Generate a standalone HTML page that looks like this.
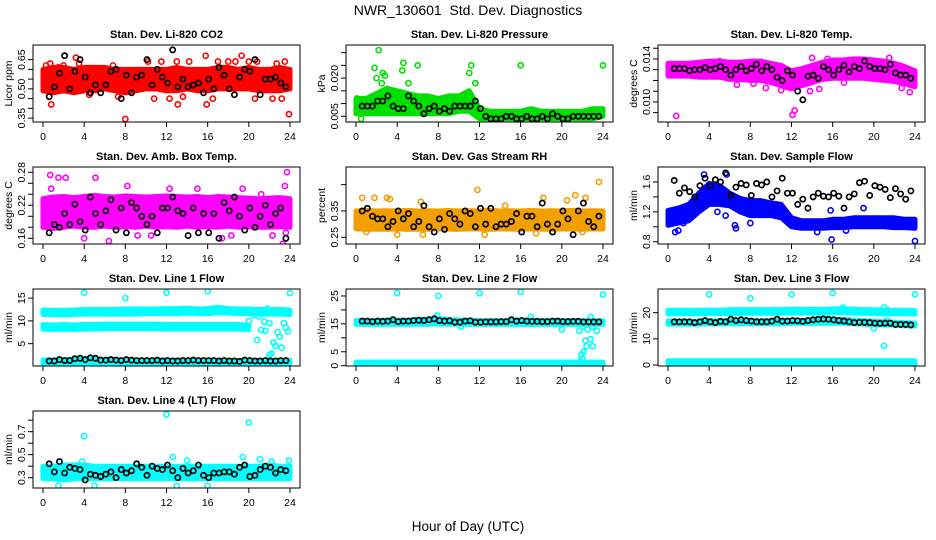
<!DOCTYPE html>
<html><head><meta charset="utf-8"><title>NWR_130601 Std. Dev. Diagnostics</title>
<style>
html,body{margin:0;padding:0;background:#fff;}
svg{display:block;font-family:"Liberation Sans",sans-serif;}
</style></head>
<body>
<svg id="chart" width="936" height="540" viewBox="0 0 936 540">
<text x="468" y="15" text-anchor="middle" font-size="14" style="white-space:pre">NWR_130601  Std. Dev. Diagnostics</text>
<text x="468" y="531" text-anchor="middle" font-size="13.5">Hour of Day (UTC)</text>
</svg>
<script>
// shared sampling hours for black (reference) points
const blackHours = [0.6,1.1,1.6,2.1,2.6,3.1,3.6,4.1,4.6,5.1,5.6,6.1,6.6,7.1,7.6,8.1,8.6,9.1,9.6,10.1,10.6,11.1,11.6,12.1,12.6,13.1,13.6,14.1,14.6,15.1,15.6,16.1,16.6,17.1,17.6,18.1,18.6,19.1,19.6,20.1,20.6,21.1,21.6,22.1,22.6,23.1,23.6];
const bandHours = [0,1,2,3,4,5,6,7,8,9,10,11,12,13,14,15,16,17,18,19,20,21,22,23,24];
const xTicks = [0,4,8,12,16,20,24];

// Panel 1: CO2
const co2BandLo = [0.49,0.48,0.49,0.48,0.49,0.49,0.50,0.49,0.48,0.49,0.50,0.50,0.49,0.49,0.50,0.49,0.49,0.50,0.50,0.50,0.50,0.49,0.49,0.49,0.50];
const co2BandHi = [0.60,0.61,0.61,0.60,0.61,0.61,0.61,0.60,0.60,0.60,0.60,0.60,0.60,0.61,0.60,0.60,0.60,0.61,0.61,0.60,0.61,0.60,0.60,0.61,0.60];
const co2OutT = [0.3,0.8,1.5,3.2,3.5,4.5,6.8,7.3,8.0,10.2,10.8,11.5,12.3,13.0,13.1,13.6,14.2,15.8,15.9,16.5,17.0,18.0,18.7,19.3,20.0,20.6,20.8,22.3,22.7,23.5,23.9,23.2,0.7,2.0];
const co2OutV = [0.62,0.42,0.61,0.66,0.63,0.47,0.62,0.46,0.345,0.64,0.45,0.64,0.45,0.64,0.42,0.46,0.64,0.67,0.42,0.45,0.64,0.64,0.64,0.67,0.64,0.45,0.64,0.45,0.63,0.64,0.37,0.45,0.63,0.62];
const co2Black = [0.46,0.51,0.58,0.67,0.50,0.59,0.65,0.56,0.48,0.52,0.48,0.52,0.59,0.60,0.45,0.57,0.48,0.56,0.57,0.65,0.52,0.60,0.56,0.53,0.70,0.51,0.55,0.51,0.52,0.53,0.48,0.55,0.50,0.61,0.57,0.50,0.47,0.56,0.60,0.59,0.65,0.47,0.55,0.55,0.56,0.53,0.51];

// Panel 2: Pressure
const presBandLo = [0.006,0.006,0.006,0.006,0.006,0.006,0.006,0.006,0.006,0.006,0.007,0.007,0.004,0.004,0.004,0.004,0.004,0.004,0.004,0.004,0.004,0.004,0.004,0.004,0.005];
const presBandHi = [0.012,0.012,0.014,0.016,0.015,0.014,0.013,0.013,0.012,0.013,0.013,0.015,0.008,0.007,0.007,0.007,0.007,0.008,0.007,0.007,0.007,0.007,0.007,0.008,0.008];
const presOutT = [2.2,1.8,2.0,2.6,2.8,4.6,4.5,5.1,6.0,11.2,11.0,11.6,16.0,24.0,0.1,0.5,2.5];
const presOutV = [0.031,0.024,0.020,0.022,0.021,0.026,0.023,0.018,0.025,0.025,0.022,0.018,0.025,0.025,0.012,0.004,0.018];
const presBlack = [0.009,0.009,0.009,0.011,0.011,0.013,0.009,0.008,0.008,0.013,0.011,0.009,0.006,0.008,0.009,0.007,0.008,0.007,0.009,0.009,0.009,0.009,0.011,0.008,0.005,0.004,0.004,0.004,0.005,0.005,0.004,0.004,0.005,0.004,0.004,0.005,0.004,0.006,0.005,0.004,0.004,0.005,0.005,0.005,0.005,0.005,0.005];

// Panel 3: Li-820 Temp
const tempBandLo = [0.0124,0.0124,0.0124,0.0123,0.0123,0.0123,0.0121,0.0121,0.0120,0.0120,0.0118,0.0115,0.0112,0.0115,0.0118,0.0121,0.0122,0.0122,0.0122,0.0122,0.0121,0.0120,0.0119,0.0117,0.0114];
const tempBandHi = [0.0136,0.0136,0.0136,0.0137,0.0138,0.0138,0.0137,0.0137,0.0138,0.0138,0.0136,0.0134,0.0129,0.0131,0.0134,0.0137,0.0139,0.0139,0.0140,0.0140,0.0139,0.0138,0.0136,0.0133,0.0129];
const tempOutT = [0.8,2.0,3.5,5.0,6.7,8.3,9.5,11.0,12.1,12.3,13.8,14.7,17.1,18.6,19.2,21.5,22.7,23.5,23.9,15.5,14.0];
const tempOutV = [0.0087,0.0126,0.0125,0.0138,0.0116,0.0117,0.0113,0.0111,0.0088,0.0092,0.0110,0.0112,0.0118,0.0157,0.0136,0.0141,0.0113,0.0109,0.0116,0.0140,0.0141];
const tempBlack = [0.0131,0.0131,0.0131,0.0129,0.0130,0.0130,0.0132,0.0130,0.0131,0.0133,0.0130,0.0125,0.0130,0.0133,0.0129,0.0131,0.0135,0.0129,0.0133,0.0130,0.0123,0.0120,0.0129,0.0125,0.0110,0.0102,0.0124,0.0125,0.0122,0.0133,0.0130,0.0125,0.0130,0.0134,0.0128,0.0133,0.0131,0.0138,0.0133,0.0131,0.0131,0.0130,0.0135,0.0127,0.0125,0.0125,0.0122];

// Panel 4: Amb box temp
const ambBandLo = [0.180,0.178,0.180,0.182,0.180,0.180,0.182,0.180,0.181,0.180,0.182,0.180,0.181,0.180,0.182,0.180,0.181,0.180,0.182,0.180,0.181,0.180,0.180,0.181,0.180];
const ambBandHi = [0.232,0.235,0.236,0.234,0.236,0.238,0.236,0.235,0.237,0.236,0.235,0.236,0.237,0.236,0.235,0.236,0.234,0.236,0.235,0.234,0.233,0.232,0.233,0.234,0.232];
const ambOutT = [0.7,1.5,2.2,5.1,0.8,4.0,6.4,9.2,8.2,12.3,15.0,17.4,18.3,19.4,21.2,22.3,23.3,23.7,23.5,23.6,10.5];
const ambOutV = [0.275,0.27,0.27,0.27,0.25,0.16,0.155,0.165,0.255,0.25,0.25,0.16,0.165,0.25,0.24,0.165,0.15,0.28,0.255,0.17,0.165];
const ambBlack = [0.17,0.185,0.18,0.205,0.185,0.222,0.19,0.175,0.235,0.205,0.185,0.21,0.23,0.175,0.215,0.17,0.225,0.215,0.20,0.185,0.2,0.17,0.215,0.215,0.235,0.21,0.205,0.165,0.215,0.17,0.205,0.17,0.205,0.16,0.225,0.21,0.235,0.2,0.175,0.215,0.18,0.2,0.22,0.185,0.205,0.215,0.16];

// Panel 5: Gas stream RH
const rhBandLo = [0.282,0.280,0.281,0.280,0.282,0.280,0.281,0.280,0.282,0.281,0.280,0.282,0.281,0.280,0.282,0.281,0.280,0.282,0.281,0.280,0.282,0.281,0.280,0.282,0.281];
const rhBandHi = [0.350,0.352,0.350,0.351,0.350,0.352,0.350,0.351,0.350,0.352,0.350,0.351,0.350,0.352,0.350,0.351,0.350,0.352,0.350,0.351,0.350,0.352,0.350,0.351,0.350];
const rhOutT = [0.6,1.8,3.3,3.0,11.8,14.5,18.2,20.5,21.3,22.3,23.6,6.5,4.0,12.5,17.5,22.0,1.0,6.3];
const rhOutV = [0.40,0.40,0.395,0.40,0.43,0.37,0.40,0.39,0.41,0.40,0.46,0.26,0.26,0.26,0.265,0.27,0.27,0.385];
const rhBlack = [0.35,0.36,0.33,0.32,0.32,0.29,0.31,0.35,0.32,0.34,0.29,0.31,0.37,0.29,0.27,0.32,0.28,0.34,0.32,0.30,0.35,0.34,0.29,0.36,0.30,0.36,0.29,0.30,0.30,0.31,0.34,0.27,0.33,0.33,0.29,0.38,0.30,0.27,0.30,0.35,0.32,0.26,0.35,0.38,0.31,0.29,0.33];

// Panel 6: Sample flow
const sfBandLo = [1.02,1.05,1.08,1.2,1.3,1.3,1.28,1.2,1.15,1.15,1.15,1.12,1.0,0.98,0.98,0.98,0.99,0.99,1.0,1.0,1.0,1.0,0.99,0.99,0.98];
const sfBandHi = [1.22,1.25,1.3,1.45,1.58,1.55,1.45,1.38,1.35,1.35,1.32,1.3,1.12,1.08,1.08,1.08,1.1,1.1,1.12,1.12,1.12,1.12,1.12,1.1,1.1];
const sfOutT = [0.7,1.0,1.5,4.8,5.6,6.5,6.6,8.0,15.9,14.5,15.8,19.0,24.0,17.3,3.5,5.7];
const sfOutV = [0.93,0.95,1.05,1.2,1.15,1.02,0.98,1.05,0.83,0.93,1.22,1.25,0.81,0.95,1.7,1.7];
const sfBlack = [1.62,1.45,1.52,1.47,1.40,1.55,1.65,1.55,1.63,1.60,1.72,1.42,1.53,1.58,1.56,1.42,1.58,1.56,1.60,1.40,1.48,1.65,1.45,1.45,1.30,1.37,1.25,1.40,1.45,1.41,1.40,1.45,1.41,1.25,1.40,1.44,1.59,1.61,1.42,1.55,1.53,1.50,1.39,1.51,1.44,1.37,1.48];

// Panel 7: Line 1 flow
const l1BandALo = [11.4,11.4,11.3,11.4,11.5,11.5,11.5,11.5,11.5,11.5,11.6,11.6,11.6,11.6,11.7,11.6,11.6,11.8,11.7,11.6,11.6,11.5,11.5,11.5,11.4];
const l1BandAHi = [12.4,12.3,12.3,12.4,12.5,12.5,12.5,12.5,12.6,12.6,12.6,12.6,12.7,12.7,12.8,12.6,12.7,13.0,12.7,12.6,12.6,12.5,12.5,12.5,12.4];
const l1BandBLo = [8.2,8.1,8.2,8.1,8.2,8.2,8.3,8.3,8.3,8.3,8.3,8.3,8.2,8.2,8.2,8.2,8.2,8.2,8.2,8.2,8.1,null,null,null,null];
const l1BandBHi = [9.2,9.1,9.2,9.1,9.2,9.2,9.3,9.3,9.3,9.3,9.3,9.3,9.2,9.2,9.2,9.2,9.2,9.2,9.2,9.2,9.0,null,null,null,null];
const l1BandCLo = [0.7,0.7,0.7,0.7,0.7,0.7,0.7,0.7,0.7,0.7,0.7,0.7,0.7,0.7,0.7,0.7,0.7,0.7,0.7,0.7,0.7,0.7,0.7,0.7,0.7];
const l1BandCHi = [1.4,1.4,1.5,1.6,1.8,1.7,1.5,1.5,1.4,1.4,1.4,1.4,1.4,1.4,1.4,1.4,1.4,1.4,1.3,1.3,1.3,1.3,1.3,1.3,1.3];
const l1OutT = [4,8,12,16,24,20,20.5,20.8,21.2,21.5,21.6,21.8,22,22.2,22.4,22.6,22.8,23,23.2,23.4,23.6,23.8,22.0,21.0];
const l1OutV = [16.2,15,16.2,16.5,16.1,10,11.2,5.8,8,9.8,7.8,12.7,2.5,2.8,5.2,4.5,7.5,6.5,4.1,9.5,8.5,7.7,9.5,11];
const l1Black = [1.2,1.2,1.5,1.3,1.3,1.7,1.8,1.5,1.9,1.8,1.4,1.4,1.5,1.4,1.3,1.5,1.4,1.3,1.3,1.3,1.3,1.4,1.2,1.3,1.2,1.2,1.3,1.3,1.4,1.3,1.3,1.3,1.3,1.2,1.3,1.2,1.2,1.1,1.4,1.3,1.2,1.2,1.3,1.2,1.2,1.3,1.3];

// Panel 8: Line 2 flow
const l2BandALo = [14.8,14.8,14.8,14.8,14.8,14.8,14.9,14.9,15.0,14.9,14.9,14.8,14.8,14.8,14.8,14.8,14.8,14.8,14.8,14.8,14.8,14.8,14.8,14.8,14.8];
const l2BandAHi = [16.2,16.2,16.2,16.3,16.3,16.3,16.6,16.7,16.9,16.6,16.4,16.3,16.2,16.2,16.2,16.2,16.4,16.3,16.2,16.2,16.2,16.2,16.1,16.1,16.1];
const l2BandBLo = [0.2,0.2,0.2,0.2,0.2,0.2,0.2,0.2,0.2,0.2,0.2,0.2,0.2,0.2,0.2,0.2,0.2,0.2,0.2,0.2,0.2,0.2,0.2,0.2,0.2];
const l2BandBHi = [1.3,1.3,1.3,1.3,1.3,1.3,1.3,1.3,1.3,1.3,1.3,1.3,1.3,1.3,1.3,1.3,1.3,1.3,1.3,1.3,1.3,1.3,1.3,1.3,1.3];
const l2OutT = [4,8,12,16,24,7.9,7.7,17,20,21.7,22,22.5,22.8,23,23.4,22.0,21.9,22.1,22.4,22.3,22.8,23,21.8,5,10.2];
const l2OutV = [26,25,26,26.5,25.5,18,17,17.5,13,12.5,14,13,17.5,14,12.5,2.5,4,5,7,9,9.5,7,1.5,15.5,14];
const l2Black = [16,16,15.8,16,15.9,16,16.5,15.8,16,16,16.2,16.3,16.2,16.5,16.8,16.2,16,16.1,15.6,15.6,16,16.1,15.6,15.6,15.7,15.7,15.7,15.8,15.8,16.5,16,16.2,16,15.9,15.9,15.8,15.8,16,16,15.8,15.8,15.9,15.9,15.7,15.7,15.7,15.7];

// Panel 9: Line 3 flow
const l3BandALo = [19.6,19.6,19.6,19.6,19.7,19.7,19.7,19.8,19.8,19.8,19.8,19.8,19.9,19.9,19.9,19.9,20.0,20.0,19.9,19.8,19.7,19.6,19.6,19.6,19.5];
const l3BandAHi = [20.9,20.9,20.9,20.9,21.0,21.0,21.1,21.2,21.2,21.2,21.2,21.2,21.3,21.3,21.3,21.3,21.4,21.5,21.3,21.2,21.1,21.0,20.9,20.9,20.8];
const l3BandBLo = [15.6,15.6,15.6,15.6,15.7,15.7,15.8,15.8,15.8,15.8,15.8,15.8,15.9,15.9,15.9,16.0,16.0,16.0,15.8,15.6,15.4,15.3,15.2,15.0,14.9];
const l3BandBHi = [16.8,16.8,16.8,16.8,16.9,16.9,17.0,17.1,17.1,17.0,17.0,17.0,17.1,17.1,17.2,17.3,17.4,17.4,17.2,17.0,16.8,16.6,16.4,16.2,16.0];
const l3BandCLo = [0.5,0.5,0.5,0.5,0.5,0.5,0.5,0.5,0.5,0.5,0.5,0.5,0.5,0.5,0.5,0.5,0.5,0.5,0.5,0.5,0.5,0.5,0.5,0.5,0.5];
const l3BandCHi = [1.6,1.6,1.6,1.6,1.6,1.6,1.6,1.6,1.6,1.6,1.6,1.6,1.6,1.6,1.6,1.6,1.6,1.6,1.6,1.6,1.6,1.6,1.6,1.6,1.6];
const l3OutT = [4,8,12,16,24,17,21,21.3,20,21,21.3];
const l3OutV = [27,25.5,27,27.5,27,22,22,21,14,7.3,17];
const l3Black = [16.5,16.5,16.5,16.5,16.2,16.5,17,16.5,16.2,16.7,16.5,17.5,17,17.3,17,16.8,16.5,16.5,16.5,16.8,17.5,16.8,16.8,17,16.9,16.7,17,17.3,17.5,17.6,17.5,17.3,17,16.8,16.5,16.2,16.3,16.3,16.2,16,15.9,16,16,15.5,15.5,15.5,15.3];

// Panel 10: Line 4 flow
const l4BandLo = [0.29,0.29,0.28,0.29,0.29,0.29,0.29,0.29,0.29,0.29,0.29,0.29,0.29,0.29,0.29,0.29,0.29,0.29,0.29,0.29,0.29,0.29,0.29,0.29,0.29];
const l4BandHi = [0.40,0.40,0.41,0.41,0.41,0.40,0.40,0.40,0.40,0.40,0.40,0.40,0.40,0.40,0.40,0.40,0.40,0.40,0.40,0.40,0.40,0.40,0.41,0.40,0.40];
const l4OutT = [4,12,20,1.5,5,13,16,12.6,19.4,21.1,23.9,3.8,14.0,22.2];
const l4OutV = [0.66,0.85,0.78,0.23,0.23,0.23,0.23,0.48,0.48,0.46,0.45,0.44,0.45,0.44];
const l4Black = [0.42,0.35,0.44,0.34,0.39,0.38,0.37,0.28,0.33,0.32,0.31,0.33,0.35,0.30,0.37,0.34,0.36,0.42,0.39,0.32,0.40,0.38,0.37,0.41,0.36,0.30,0.38,0.34,0.36,0.41,0.32,0.30,0.34,0.34,0.35,0.35,0.33,0.39,0.41,0.31,0.32,0.37,0.40,0.39,0.34,0.37,0.36];

const colLeft = [33, 346, 658];
const rowTop = [45, 167, 289, 411];
const PW = 267, PH = 77;
const NS = 'http://www.w3.org/2000/svg';
const svg = document.getElementById('chart');

const panels = [
 {key:'co2', title:'Stan. Dev. Li-820 CO2', ylab:'Licor ppm', c:0, r:0, ymin:0.33, ymax:0.725, ticks:[0.35,0.40,0.45,0.50,0.55,0.60,0.65], labels:[[0.35,'0.35'],[0.50,'0.50'],[0.65,'0.65']], color:'#ff0000', bands:[[co2BandLo,co2BandHi]], outT:co2OutT, outV:co2OutV, black:co2Black},
 {key:'pressure', title:'Stan. Dev. Li-820 Pressure', ylab:'kPa', c:1, r:0, ymin:0.00276, ymax:0.033, ticks:[0.005,0.010,0.015,0.020,0.025,0.030], labels:[[0.005,'0.005'],[0.020,'0.020']], color:'#00e000', bands:[[presBandLo,presBandHi]], outT:presOutT, outV:presOutV, black:presBlack},
 {key:'li820-temp', title:'Stan. Dev. Li-820 Temp.', ylab:'degrees C', c:2, r:0, ymin:0.00813, ymax:0.0153, ticks:[0.009,0.010,0.011,0.012,0.013,0.014,0.015], labels:[[0.010,'0.010'],[0.014,'0.014']], color:'#ff00ff', bands:[[tempBandLo,tempBandHi]], outT:tempOutT, outV:tempOutV, black:tempBlack},
 {key:'amb-box-temp', title:'Stan. Dev. Amb. Box Temp.', ylab:'degrees C', c:0, r:1, ymin:0.1496, ymax:0.2896, ticks:[0.16,0.18,0.20,0.22,0.24,0.26,0.28], labels:[[0.16,'0.16'],[0.22,'0.22'],[0.28,'0.28']], color:'#ff00ff', bands:[[ambBandLo,ambBandHi]], outT:ambOutT, outV:ambOutV, black:ambBlack},
 {key:'gas-stream-rh', title:'Stan. Dev. Gas Stream RH', ylab:'percent', c:1, r:1, ymin:0.2245, ymax:0.517, ticks:[0.25,0.35,0.45], labels:[[0.25,'0.25'],[0.35,'0.35']], color:'#f2a000', bands:[[rhBandLo,rhBandHi]], outT:rhOutT, outV:rhOutV, black:rhBlack},
 {key:'sample-flow', title:'Stan. Dev. Sample Flow', ylab:'ml/min', c:2, r:1, ymin:0.77, ymax:1.8, ticks:[0.8,1.0,1.2,1.4,1.6], labels:[[0.8,'0.8'],[1.2,'1.2'],[1.6,'1.6']], color:'#0000ff', bands:[[sfBandLo,sfBandHi]], outT:sfOutT, outV:sfOutV, black:sfBlack},
 {key:'line1-flow', title:'Stan. Dev. Line 1 Flow', ylab:'ml/min', c:0, r:2, ymin:0.1, ymax:17, ticks:[5,10,15], labels:[[5,'5'],[10,'10'],[15,'15']], color:'#00ffff', bands:[[l1BandALo,l1BandAHi],[l1BandBLo,l1BandBHi],[l1BandCLo,l1BandCHi]], outT:l1OutT, outV:l1OutV, black:l1Black},
 {key:'line2-flow', title:'Stan. Dev. Line 2 Flow', ylab:'ml/min', c:1, r:2, ymin:-0.1, ymax:27.5, ticks:[0,5,10,15,20,25], labels:[[0,'0'],[5,'5'],[15,'15'],[25,'25']], color:'#00ffff', bands:[[l2BandALo,l2BandAHi],[l2BandBLo,l2BandBHi]], outT:l2OutT, outV:l2OutV, black:l2Black},
 {key:'line3-flow', title:'Stan. Dev. Line 3 Flow', ylab:'ml/min', c:2, r:2, ymin:-0.38, ymax:29.06, ticks:[0,10,20], labels:[[0,'0'],[10,'10'],[20,'20']], color:'#00ffff', bands:[[l3BandALo,l3BandAHi],[l3BandBLo,l3BandBHi],[l3BandCLo,l3BandCHi]], outT:l3OutT, outV:l3OutV, black:l3Black},
 {key:'line4-flow', title:'Stan. Dev. Line 4 (LT) Flow', ylab:'ml/min', c:0, r:3, ymin:0.21, ymax:0.88, ticks:[0.3,0.4,0.5,0.6,0.7,0.8], labels:[[0.3,'0.3'],[0.5,'0.5'],[0.7,'0.7']], color:'#00ffff', bands:[[l4BandLo,l4BandHi]], outT:l4OutT, outV:l4OutV, black:l4Black}
];

function mk(tag, attrs, parent){
  const e = document.createElementNS(NS, tag);
  for (const k in attrs) e.setAttribute(k, attrs[k]);
  (parent||svg).appendChild(e);
  return e;
}

panels.forEach(p => {
  const L = colLeft[p.c], T = rowTop[p.r], R = L + PW, B = T + PH;
  const xs = h => (L + 10) + h / 24 * (PW - 20);
  const ys = v => B - (v - p.ymin) / (p.ymax - p.ymin) * PH;

  const g = mk('g', {});
  
  

  const clipId = 'clip-' + p.key;
  const cp = mk('clipPath', {id: clipId}, g);
  mk('rect', {x: L, y: T, width: PW, height: PH}, cp);

  const title = mk('text', {x: L + PW/2, y: T - 7, 'text-anchor':'middle', 'font-size':'11', 'font-weight':'bold'}, g);
  title.textContent = p.title;
  
  

  const plot = mk('g', {'clip-path': 'url(#' + clipId + ')'}, g);
  
  

  p.bands.forEach(([lo, hi]) => {
    const top = [], bot = [];
    bandHours.forEach((h, i) => {
      if (lo[i] == null || hi[i] == null) return;
      top.push(xs(h).toFixed(1) + ',' + ys(hi[i]).toFixed(1));
      bot.unshift(xs(h).toFixed(1) + ',' + ys(lo[i]).toFixed(1));
    });
    const band = mk('polygon', {points: top.concat(bot).join(' '), fill: p.color, stroke: p.color, 'stroke-width': 5, 'stroke-linejoin':'round'}, plot);
    
    
  });

  const n = Math.min(p.outT.length, p.outV.length);
  for (let i = 0; i < n; i++) {
    const pt = mk('circle', {cx: xs(p.outT[i]), cy: ys(p.outV[i]), r: 2.6, fill: 'none', stroke: p.color, 'stroke-width': 1.6}, plot);
    
    
  }

  const m = Math.min(blackHours.length, p.black.length);
  for (let i = 0; i < m; i++) {
    const bp = mk('circle', {cx: xs(blackHours[i]), cy: ys(p.black[i]), r: 2.6, fill: 'none', stroke: '#000', 'stroke-width': 1.7}, plot);
    
    
  }

  const box = mk('rect', {x: L, y: T, width: PW, height: PH, fill: 'none', stroke: '#000', 'stroke-width': 1}, g);
  
  

  xTicks.forEach(h => {
    const x = xs(h);
    mk('line', {x1: x, x2: x, y1: B, y2: B + 5, stroke: '#000'}, g);
    const t = mk('text', {x: x, y: B + 18, 'text-anchor':'middle', 'font-size':'10.5'}, g);
    t.textContent = h;
    
    
  });

  p.ticks.forEach(v => {
    const y = ys(v);
    mk('line', {x1: L - 5, x2: L, y1: y, y2: y, stroke: '#000'}, g);
  });
  p.labels.forEach(([v, s]) => {
    const y = ys(v);
    const t = mk('text', {x: 0, y: 0, 'text-anchor':'middle', 'font-size':'10.5', transform: 'translate(' + (L - 8) + ',' + y + ') rotate(-90)'}, g);
    t.textContent = s;
    
    
  });
  const yl = mk('text', {x: 0, y: 0, 'text-anchor':'middle', 'font-size':'10.5', transform: 'translate(' + (L - 21) + ',' + (T + PH/2) + ') rotate(-90)'}, g);
  yl.textContent = p.ylab;
  
  
});
</script>
</body></html>
